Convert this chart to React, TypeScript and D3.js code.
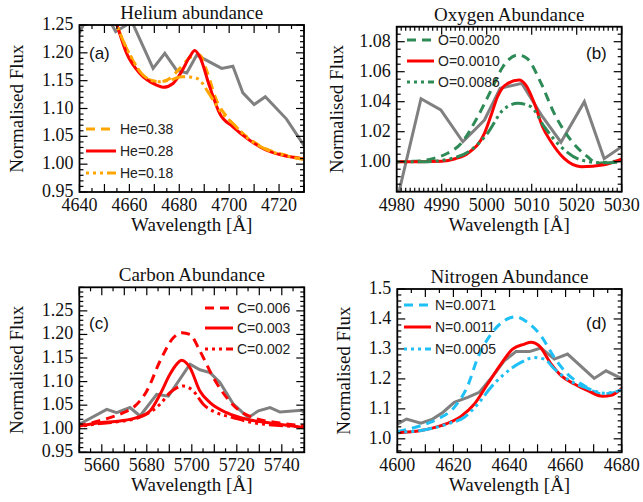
import React from 'react';
import * as d3 from 'd3';

type P = [number, number];

// ---------- Panel (a) Helium ----------
const heObs: P[] = [[4636,1.21],[4640,1.236],[4647,1.30],[4654.5,1.238],[4661,1.256],[4669.5,1.172],[4674.2,1.199],[4678.9,1.169],[4683,1.164],[4687,1.196],[4697,1.172],[4701.5,1.176],[4705.5,1.128],[4710,1.107],[4714.5,1.121],[4723,1.081],[4730.5,1.03]];
const he038: P[] = [[4653.5,1.27],[4655,1.25],[4660.2,1.196],[4666.9,1.154],[4672.2,1.148],[4676.2,1.154],[4680.2,1.172],[4684.9,1.193],[4688.2,1.196],[4690.9,1.169],[4694.9,1.115],[4700.2,1.079],[4708,1.046],[4715,1.027],[4722,1.017],[4730.5,1.009]];
const he028: P[] = [[4653.5,1.27],[4655,1.25],[4658.9,1.199],[4664.2,1.163],[4670.9,1.142],[4673.5,1.138],[4677.5,1.145],[4680.9,1.166],[4684.2,1.193],[4686.2,1.204],[4688.2,1.193],[4692.2,1.139],[4696.2,1.091],[4701.5,1.067],[4708.2,1.043],[4714.9,1.025],[4721.5,1.016],[4730.5,1.009]];
const he018: P[] = [[4653.5,1.27],[4655,1.25],[4661,1.19],[4665.5,1.16],[4671.5,1.148],[4676.2,1.151],[4680.9,1.157],[4685.5,1.156],[4688.2,1.151],[4691.5,1.13],[4696.2,1.097],[4701.5,1.073],[4708,1.045],[4715,1.026],[4722,1.016],[4730.5,1.008]];
const heLabels = ['He=0.38', 'He=0.28', 'He=0.18'];
const heXTicks = [4640, 4660, 4680, 4700, 4720];
const heYTicks = [0.95, 1.0, 1.05, 1.1, 1.15, 1.2, 1.25];

// ---------- Panel (b) Oxygen ----------
const oObs: P[] = [[4980.2,0.976],[4985.4,1.042],[4989.8,1.0345],[4994.7,1.0133],[4999.5,1.0278],[5003,1.049],[5007.8,1.0522],[5012.4,1.03],[5016.5,1.013],[5021.7,1.04],[5026.1,1.002],[5030.5,1.011]];
const o0020: P[] = [[4980,1.0],[4985,1.0005],[4988,1.002],[4991.3,1.0056],[4994.3,1.0122],[4998,1.03],[5001,1.0478],[5003.6,1.0633],[5006.9,1.0711],[5008.9,1.069],[5012.1,1.0522],[5015,1.0322],[5018.7,1.0144],[5022.4,1.0033],[5024.6,0.999],[5027.6,1.0],[5030.5,1.001]];
const o0010: P[] = [[4980,1.0],[4985,1.0],[4990,1.0003],[4993,1.002],[4995.8,1.0056],[4999.5,1.0189],[5001,1.0311],[5002.4,1.0433],[5003.6,1.0496],[5004.7,1.0522],[5007.2,1.0545],[5008.7,1.0511],[5010.6,1.0389],[5012.4,1.0233],[5014.3,1.0133],[5017.2,1.0022],[5021,0.9967],[5026.1,0.998],[5030.5,1.0025]];
const o0086: P[] = [[4980,1.0],[4986,1.0],[4992,1.002],[4996.5,1.0078],[5000.2,1.019],[5003.6,1.0344],[5006.9,1.0389],[5009.8,1.0367],[5012.8,1.0233],[5016.5,1.01],[5021,1.0011],[5025.4,0.9993],[5030.5,1.0]];
const oLabels = ['O=0.0020', 'O=0.0010', 'O=0.0086'];
const oXTicks = [4980, 4990, 5000, 5010, 5020, 5030];
const oYTicks = [1.0, 1.02, 1.04, 1.06, 1.08];

// ---------- Panel (c) Carbon ----------
const cObs: P[] = [[5650,1.0094],[5662.2,1.041],[5666.6,1.034],[5672.5,1.045],[5677,1.027],[5684.4,1.073],[5689.6,1.069],[5699.2,1.137],[5703.6,1.125],[5708.1,1.119],[5712.5,1.098],[5718.5,1.052],[5725.1,1.0234],[5729.6,1.038],[5734.8,1.045],[5739.2,1.0355],[5748.8,1.039],[5751,1.03]];
const c006: P[] = [[5649,1.005],[5659,1.017],[5669.6,1.034],[5674,1.045],[5680,1.08],[5685.9,1.1437],[5691.8,1.193],[5695.5,1.2037],[5699.2,1.2],[5703.6,1.165],[5709.6,1.1082],[5715.5,1.066],[5721.4,1.0376],[5727.3,1.0234],[5737.6,1.013],[5750.5,1.006]];
const c003: P[] = [[5649,1.005],[5659.2,1.0128],[5668.1,1.0164],[5675.5,1.0234],[5681.4,1.0376],[5685.9,1.073],[5690.3,1.1155],[5693.5,1.138],[5695.5,1.1451],[5697.5,1.14],[5699.2,1.1295],[5703.6,1.08],[5708.1,1.0552],[5715.5,1.034],[5724.4,1.02],[5733.3,1.013],[5750.5,1.0022]];
const c002: P[] = [[5649,1.004],[5659.2,1.011],[5668.1,1.0155],[5675.5,1.022],[5681.4,1.035],[5685.9,1.052],[5690.3,1.0765],[5693.5,1.087],[5696.2,1.0906],[5700.7,1.08],[5705.1,1.0518],[5711,1.034],[5718.5,1.0234],[5727.3,1.0128],[5750.5,1.004]];
const cLabels = ['C=0.006', 'C=0.003', 'C=0.002'];
const cXTicks = [5660, 5680, 5700, 5720, 5740];
const cYTicks = [0.95, 1.0, 1.05, 1.1, 1.15, 1.2, 1.25];

// ---------- Panel (d) Nitrogen ----------
const nObs: P[] = [[4600,1.049],[4603.3,1.066],[4608.4,1.052],[4612.6,1.066],[4616.2,1.088],[4620.3,1.122],[4625.1,1.138],[4629.2,1.155],[4634.6,1.216],[4638.1,1.26],[4642.3,1.291],[4647.1,1.291],[4651.2,1.303],[4656,1.266],[4660.7,1.283],[4670.2,1.2016],[4674.4,1.227],[4680.4,1.199]];
const n0071: P[] = [[4600,1.024],[4608.4,1.044],[4614.4,1.066],[4620.3,1.105],[4625.1,1.177],[4628.7,1.271],[4633.4,1.349],[4638.1,1.394],[4642.3,1.407],[4646.5,1.388],[4651.2,1.344],[4656,1.271],[4660.7,1.216],[4666.7,1.177],[4672.6,1.15],[4676,1.152],[4680.5,1.168]];
const n0011: P[] = [[4600,1.02],[4608.4,1.0277],[4615.6,1.044],[4622.7,1.075],[4627.5,1.116],[4632.2,1.183],[4637,1.25],[4641.1,1.2994],[4645.3,1.316],[4647.7,1.3227],[4650.6,1.31],[4654.8,1.25],[4658.4,1.211],[4663.1,1.183],[4667.9,1.1607],[4673.2,1.142],[4676.2,1.145],[4680.5,1.172]];
const n0005: P[] = [[4600,1.022],[4608.4,1.028],[4618,1.05],[4623.9,1.072],[4628.7,1.116],[4633.4,1.172],[4638.1,1.216],[4644.1,1.255],[4648.8,1.271],[4652.4,1.266],[4656,1.233],[4660.7,1.199],[4667.9,1.168],[4673.8,1.152],[4680.5,1.165]];
const nLabels = ['N=0.0071', 'N=0.0011', 'N=0.0005'];
const nXTicks = [4600, 4620, 4640, 4660, 4680];
const nYTicks = [1.0, 1.1, 1.2, 1.3, 1.4, 1.5];

const DASH = '9,6';
const DOTDASH = '3,4,3,4,3,4,14,4';
const GRAY = '#808080';
const RED = '#ff0000';
const ORANGE = '#ffa500';
const GREEN = '#2e8b57';
const BLUE = '#1ec0f5';

const SERIF = '"Liberation Serif", "Times New Roman", serif';
const SANS = '"Liberation Sans", Arial, sans-serif';

interface Series { data: P[]; color: string; dash?: string; }
interface PanelProps {
  id: string;
  title: string;
  letter: string;
  letterPos: [number, number];
  xDomain: [number, number];
  yDomain: [number, number];
  x0: number; x1: number; y0: number; y1: number;
  xTicks: number[]; yTicks: number[];
  xMinor: number; yMinor: number;
  yFmt: string;
  obs: P[];
  models: Series[];
  labels: string[];
  legendX: number; legendY: number[]; legendLen: number;
  yTitleX: number;
}

function range(a: number, b: number, step: number): number[] {
  const out: number[] = [];
  const n = Math.round((b - a) / step);
  for (let i = 0; i <= n; i++) out.push(+(a + i * step).toFixed(6));
  return out;
}

function Panel(p: PanelProps) {
  const x = d3.scaleLinear().domain(p.xDomain).range([p.x0, p.x1]);
  const y = d3.scaleLinear().domain(p.yDomain).range([p.y1, p.y0]);
  const lin = d3.line<P>().x(d => x(d[0])).y(d => y(d[1]));
  const smooth = d3.line<P>().x(d => x(d[0])).y(d => y(d[1])).curve(d3.curveMonotoneX);
  const xMinor = range(Math.ceil(p.xDomain[0] / p.xMinor) * p.xMinor, Math.floor(p.xDomain[1] / p.xMinor) * p.xMinor, p.xMinor);
  const yMinor = range(Math.ceil(p.yDomain[0] / p.yMinor - 1e-6) * p.yMinor, Math.floor(p.yDomain[1] / p.yMinor + 1e-6) * p.yMinor, p.yMinor);
  const fmt = d3.format(p.yFmt);
  const majX = (v: number) => p.xTicks.some(t => Math.abs(t - v) < 1e-6) || Math.abs(v % 10) < 1e-6;
  const majY = (v: number) => p.yTicks.some(t => Math.abs(t - v) < 1e-6);
  const cx = (p.x0 + p.x1) / 2;
  const cy = (p.y0 + p.y1) / 2;
  return (
    <g>
      <defs>
        <clipPath id={p.id}>
          <rect x={p.x0} y={p.y0} width={p.x1 - p.x0} height={p.y1 - p.y0} />
        </clipPath>
      </defs>
      <g clipPath={`url(#${p.id})`} fill="none" strokeWidth={3}>
        <path d={lin(p.obs) || ''} stroke={GRAY} />
        {p.models.map((s, i) => (
          <path key={i} d={smooth(s.data) || ''} stroke={s.color} strokeDasharray={s.dash} />
        ))}
      </g>
      <g stroke="#000" strokeWidth={1.2}>
        {xMinor.map(v => {
          const L = majX(v) ? 8 : 4;
          return (
            <g key={'x' + v}>
              <line x1={x(v)} x2={x(v)} y1={p.y1} y2={p.y1 - L} />
              <line x1={x(v)} x2={x(v)} y1={p.y0} y2={p.y0 + L} />
            </g>
          );
        })}
        {yMinor.map(v => {
          const L = majY(v) ? 8 : 4;
          return (
            <g key={'y' + v}>
              <line x1={p.x0} x2={p.x0 + L} y1={y(v)} y2={y(v)} />
              <line x1={p.x1} x2={p.x1 - L} y1={y(v)} y2={y(v)} />
            </g>
          );
        })}
      </g>
      <rect x={p.x0} y={p.y0} width={p.x1 - p.x0} height={p.y1 - p.y0} fill="none" stroke="#000" strokeWidth={1.8} />
      <g fontFamily={SERIF} fill="#111">
        {p.xTicks.map(v => (
          <text key={'xl' + v} x={x(v)} y={p.y1 + 19} fontSize={18} textAnchor="middle">{v}</text>
        ))}
        {p.yTicks.map(v => (
          <text key={'yl' + v} x={p.x0 - 6} y={y(v) + 5} fontSize={18} textAnchor="end">{fmt(v)}</text>
        ))}
        <text x={cx} y={p.y1 + 39} fontSize={19} textAnchor="middle">Wavelength [Å]</text>
        <text x={cx} y={p.y0 - 6} fontSize={19} textAnchor="middle">{p.title}</text>
        <text transform={`translate(${p.yTitleX},${cy}) rotate(-90)`} fontSize={19} textAnchor="middle">Normalised Flux</text>
      </g>
      <text x={p.letterPos[0]} y={p.letterPos[1]} fontFamily={SANS} fontSize={17} fill="#111">{p.letter}</text>
      <g fontFamily={SANS} fontSize={14} fill="#222">
        {p.models.map((s, i) => (
          <g key={'lg' + i}>
            <line x1={p.legendX} x2={p.legendX + p.legendLen} y1={p.legendY[i]} y2={p.legendY[i]} stroke={s.color} strokeWidth={3} strokeDasharray={s.dash} />
            <text x={p.legendX + p.legendLen + 4} y={p.legendY[i] + 5}>{p.labels[i]}</text>
          </g>
        ))}
      </g>
    </g>
  );
}

export default function App() {
  return (
    <svg width={643} height={502} style={{ position: 'absolute', left: 0, top: 0, background: '#fff' }}>
      <Panel id="ca" title="Helium abundance" letter="(a)" letterPos={[89, 59]}
        xDomain={[4640, 4730]} yDomain={[0.95, 1.25]} x0={79.5} x1={304} y0={25} y1={192}
        xTicks={heXTicks} yTicks={heYTicks} xMinor={5} yMinor={0.01} yFmt=".2f"
        obs={heObs}
        models={[{ data: he038, color: ORANGE, dash: DASH }, { data: he028, color: RED }, { data: he018, color: ORANGE, dash: DOTDASH }]}
        labels={heLabels} legendX={86} legendY={[129, 151, 173]} legendLen={30} yTitleX={23} />
      <Panel id="cb" title="Oxygen Abundance" letter="(b)" letterPos={[586, 59]}
        xDomain={[4980, 5030]} yDomain={[0.98, 1.09]} x0={396.7} x1={621.7} y0={26.7} y1={191.7}
        xTicks={oXTicks} yTicks={oYTicks} xMinor={1} yMinor={0.005} yFmt=".2f"
        obs={oObs}
        models={[{ data: o0020, color: GREEN, dash: DASH }, { data: o0010, color: RED }, { data: o0086, color: GREEN, dash: DOTDASH }]}
        labels={oLabels} legendX={407} legendY={[40, 61, 82]} legendLen={27} yTitleX={343} />
      <Panel id="cc" title="Carbon Abundance" letter="(c)" letterPos={[89, 329]}
        xDomain={[5650, 5750]} yDomain={[0.95, 1.3]} x0={79.3} x1={304.3} y0={287.3} y1={452.3}
        xTicks={cXTicks} yTicks={cYTicks} xMinor={5} yMinor={0.01} yFmt=".2f"
        obs={cObs}
        models={[{ data: c006, color: RED, dash: DASH }, { data: c003, color: RED }, { data: c002, color: RED, dash: DOTDASH }]}
        labels={cLabels} legendX={205} legendY={[308, 328, 349]} legendLen={28} yTitleX={23} />
      <Panel id="cd" title="Nitrogen Abundance" letter="(d)" letterPos={[586, 329]}
        xDomain={[4600, 4680]} yDomain={[0.955, 1.5]} x0={397.3} x1={621.7} y0={289} y1={452.3}
        xTicks={nXTicks} yTicks={nYTicks} xMinor={5} yMinor={0.02} yFmt=".1f"
        obs={nObs}
        models={[{ data: n0071, color: BLUE, dash: DASH }, { data: n0011, color: RED }, { data: n0005, color: BLUE, dash: DOTDASH }]}
        labels={nLabels} legendX={404} legendY={[305, 327, 349]} legendLen={27} yTitleX={350} />
    </svg>
  );
}
